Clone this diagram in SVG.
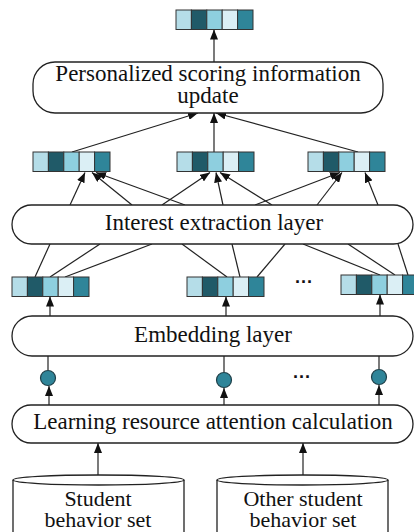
<svg xmlns="http://www.w3.org/2000/svg" xmlns:xlink="http://www.w3.org/1999/xlink" width="414" height="532" viewBox="0 0 414 532">
<style>
.box{fill:#fff;stroke:#222;stroke-width:1.3}
.t{font-family:"Liberation Serif","Times New Roman",serif;font-size:23px;fill:#111;text-anchor:middle}
.t2{font-family:"Liberation Serif","Times New Roman",serif;font-size:22px;fill:#111;text-anchor:middle}
.ln{stroke:#222;stroke-width:1.2;fill:none}
.ar{stroke:#222;stroke-width:1.2;fill:none;marker-end:url(#ah)}
.cell{stroke:#333;stroke-width:1}
.c1{fill:#b5dde8}.c2{fill:#205a68}.c3{fill:#8ecfdf}.c4{fill:#dbeff5}.c5{fill:#2f8599}
.dot{fill:#2f8599;stroke:#1e3f48;stroke-width:1.2}
.dots{font-family:"Liberation Sans",Arial,sans-serif;font-size:18px;font-weight:bold;fill:#111;text-anchor:middle}
</style>
<defs>
<marker id="ah" viewBox="0 0 10 8" refX="10" refY="4" markerWidth="10" markerHeight="8" markerUnits="userSpaceOnUse" orient="auto">
<path d="M0,0 L10,4 L0,8 z" fill="#111"/>
</marker>
<g id="vec">
<rect class="cell c1" x="0" y="0" width="15.4" height="19.5"/>
<rect class="cell c2" x="15.4" y="0" width="15.4" height="19.5"/>
<rect class="cell c3" x="30.8" y="0" width="15.4" height="19.5"/>
<rect class="cell c4" x="46.2" y="0" width="15.4" height="19.5"/>
<rect class="cell c5" x="61.6" y="0" width="15.4" height="19.5"/>
</g>
</defs>

<g id="connectors">
<line class="ar" x1="214" y1="62" x2="214" y2="29.5"/>
<line class="ar" x1="72" y1="152" x2="198" y2="113"/>
<line class="ar" x1="214" y1="152" x2="214" y2="113"/>
<line class="ar" x1="358" y1="152" x2="216" y2="113"/>
<line class="ar" x1="70" y1="205" x2="85" y2="172.5"/>
<line class="ar" x1="132" y1="205" x2="92" y2="172.5"/>
<line class="ar" x1="185" y1="205" x2="96" y2="172.5"/>
<line class="ar" x1="162" y1="205" x2="210" y2="172.5"/>
<line class="ar" x1="223" y1="205" x2="216" y2="172.5"/>
<line class="ar" x1="272" y1="205" x2="220" y2="172.5"/>
<line class="ar" x1="255" y1="205" x2="340" y2="172.5"/>
<line class="ar" x1="317" y1="205" x2="342" y2="172.5"/>
<line class="ar" x1="378" y1="205" x2="365" y2="172.5"/>
<line class="ln" x1="35" y1="277" x2="50" y2="244"/>
<line class="ln" x1="50" y1="277" x2="100" y2="244"/>
<line class="ln" x1="65" y1="277" x2="152" y2="244"/>
<line class="ln" x1="227" y1="277" x2="182" y2="244"/>
<line class="ln" x1="240" y1="277" x2="232" y2="244"/>
<line class="ln" x1="257" y1="277" x2="285" y2="244"/>
<line class="ln" x1="380" y1="275" x2="303" y2="244"/>
<line class="ln" x1="395" y1="275" x2="348" y2="244"/>
<line class="ln" x1="408" y1="275" x2="398" y2="244"/>
<line class="ar" x1="50" y1="316" x2="50" y2="296.5"/>
<line class="ar" x1="226" y1="316" x2="226" y2="296.5"/>
<line class="ar" x1="380" y1="316" x2="380" y2="294.5"/>
<line class="ln" x1="48" y1="370" x2="48" y2="356"/>
<line class="ln" x1="224" y1="372" x2="224" y2="356"/>
<line class="ln" x1="379" y1="369" x2="379" y2="356"/>
<line class="ar" x1="49" y1="405" x2="49" y2="386"/>
<line class="ar" x1="224" y1="405" x2="224" y2="388"/>
<line class="ar" x1="379" y1="405" x2="379" y2="385"/>
<line class="ar" x1="98" y1="476" x2="98" y2="443"/>
<line class="ar" x1="303" y1="476" x2="303" y2="443"/>
</g>

<g id="out-vector"><use xlink:href="#vec" x="176" y="10"/></g>

<g id="personalized-update">
<rect class="box" x="33" y="62" width="350" height="51" rx="22" ry="22"/>
<text class="t" x="208" y="81">Personalized scoring information</text>
<text class="t" x="208" y="103">update</text>
</g>

<g id="interest-vectors">
<use xlink:href="#vec" x="33" y="152"/>
<use xlink:href="#vec" x="177" y="152"/>
<use xlink:href="#vec" x="308" y="152"/>
</g>

<g id="interest-layer">
<rect class="box" x="12" y="205" width="401" height="39" rx="19.5" ry="19.5"/>
<text class="t" x="214" y="230">Interest extraction layer</text>
</g>

<g id="embedding-vectors">
<use xlink:href="#vec" x="12" y="277"/>
<use xlink:href="#vec" x="187" y="277"/>
<use xlink:href="#vec" x="341" y="275"/>
<text class="dots" x="304" y="288">···</text>
</g>

<g id="embedding-layer">
<rect class="box" x="12" y="316" width="401" height="40" rx="20" ry="20"/>
<text class="t" x="213" y="342">Embedding layer</text>
</g>

<g id="attention-weights">
<circle class="dot" cx="48" cy="378" r="7.5"/>
<circle class="dot" cx="224" cy="380" r="7.5"/>
<circle class="dot" cx="379" cy="377" r="7.5"/>
<text class="dots" x="302" y="383">···</text>
</g>

<g id="attention-calc">
<rect class="box" x="12" y="405" width="401" height="38" rx="19" ry="19"/>
<text class="t" x="213" y="429">Learning resource attention calculation</text>
</g>

<g id="student-set">
<path class="box" d="M13,480 L13,540 L184,540 L184,480"/>
<ellipse class="box" cx="98.5" cy="480" rx="85.5" ry="5"/>
<text class="t2" x="98" y="506">Student</text>
<text class="t2" x="98" y="527">behavior set</text>
</g>

<g id="other-set">
<path class="box" d="M217,480 L217,540 L388,540 L388,480"/>
<ellipse class="box" cx="302.5" cy="480" rx="85.5" ry="5"/>
<text class="t2" x="303" y="506">Other student</text>
<text class="t2" x="303" y="527">behavior set</text>
</g>
</svg>
